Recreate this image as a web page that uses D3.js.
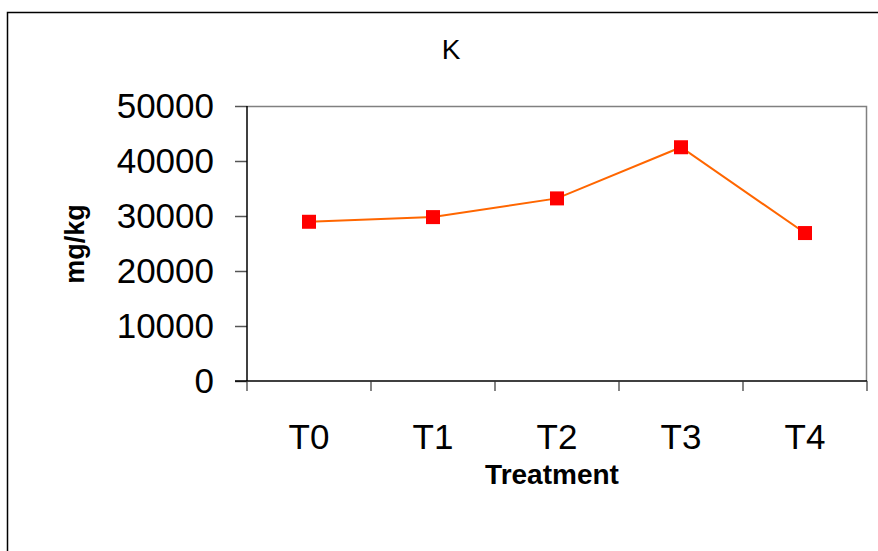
<!DOCTYPE html>
<html>
<head>
<meta charset="utf-8">
<script src="https://cdn.jsdelivr.net/npm/d3@7"></script>
<style>
  body { margin: 0; background: #fff; }
  svg { display: block; font-family: "Liberation Sans", Arial, sans-serif; }
</style>
</head>
<body>
<div id="chart"></div>
<script>
// data
var treatments = ["T0", "T1", "T2", "T3", "T4"];
var kValues = [28950, 29800, 33200, 42500, 26900];
var yTicks = [0, 10000, 20000, 30000, 40000, 50000];

var svgWidth = 878;
var svgHeight = 551;

// plot area
var margin = { top: 106, right: 11, bottom: 170, left: 247 };
var width = svgWidth - margin.left - margin.right;
var height = svgHeight - margin.top - margin.bottom;

var svg = d3.select("#chart")
  .append("svg")
  .attr("width", svgWidth)
  .attr("height", svgHeight);

// outer chart border
svg.append("rect")
  .attr("x", 7.5)
  .attr("y", 12.5)
  .attr("width", 900)
  .attr("height", 600)
  .attr("fill", "none")
  .attr("stroke", "#000")
  .attr("stroke-width", 1.5);

var chartGroup = svg.append("g")
  .attr("transform", `translate(${margin.left}, ${margin.top})`);

// scales
var xScale = d3.scaleBand()
  .domain(treatments)
  .range([0, width]);

var yScale = d3.scaleLinear()
  .domain([0, 50000])
  .range([height, 0]);

// plot area frame (grey top/right)
chartGroup.append("path")
  .attr("d", `M0,0.5H${width - 0.5}V${height}`)
  .attr("fill", "none")
  .attr("stroke", "#808080")
  .attr("stroke-width", 1.5);

// y axis
var yAxis = d3.axisLeft(yScale)
  .tickValues(yTicks)
  .tickFormat(d3.format("d"))
  .tickSize(12)
  .tickPadding(21);

var yG = chartGroup.append("g").call(yAxis);
yG.select(".domain").remove();
yG.selectAll(".tick line").attr("stroke", "#555").attr("stroke-width", 1.5);
yG.selectAll(".tick text")
  .attr("fill", "#000")
  .style("font-size", "35px");
yG.append("line")
  .attr("x1", 0).attr("x2", 0)
  .attr("y1", 0).attr("y2", height)
  .attr("stroke", "#000")
  .attr("stroke-width", 1.5);

// x axis: ticks sit between categories
var xG = chartGroup.append("g")
  .attr("transform", `translate(0, ${height})`);

xG.append("line")
  .attr("x1", -12).attr("x2", width)
  .attr("y1", 0).attr("y2", 0)
  .attr("stroke", "#000")
  .attr("stroke-width", 1.5);

var bounds = treatments.map(d => xScale(d)).concat([width]);
xG.selectAll(".xtick").data(bounds).enter().append("line")
  .attr("class", "xtick")
  .attr("x1", d => d).attr("x2", d => d)
  .attr("y1", 0).attr("y2", 10)
  .attr("stroke", "#333")
  .attr("stroke-width", 1.2);

xG.selectAll(".xlabel").data(treatments).enter().append("text")
  .attr("class", "xlabel")
  .attr("x", d => xScale(d) + xScale.bandwidth() / 2)
  .attr("y", 68)
  .attr("text-anchor", "middle")
  .style("font-size", "35px")
  .text(d => d);

// line + markers
var line = d3.line()
  .x((d, i) => xScale(treatments[i]) + xScale.bandwidth() / 2)
  .y(d => yScale(d));

chartGroup.append("path")
  .datum(kValues)
  .attr("d", line)
  .attr("fill", "none")
  .attr("stroke", "#FF6600")
  .attr("stroke-width", 2);

var ms = 14;
chartGroup.selectAll(".marker").data(kValues).enter().append("rect")
  .attr("class", "marker")
  .attr("x", (d, i) => xScale(treatments[i]) + xScale.bandwidth() / 2 - ms / 2)
  .attr("y", d => yScale(d) - ms / 2)
  .attr("width", ms)
  .attr("height", ms)
  .attr("fill", "#FF0000");

// title
svg.append("text")
  .attr("x", 451)
  .attr("y", 59)
  .attr("text-anchor", "middle")
  .style("font-size", "28px")
  .text("K");

// axis titles
svg.append("text")
  .attr("x", 552)
  .attr("y", 484)
  .attr("text-anchor", "middle")
  .style("font-size", "28px")
  .style("font-weight", "bold")
  .text("Treatment");

svg.append("text")
  .attr("transform", "translate(84, 244) rotate(-90)")
  .attr("text-anchor", "middle")
  .style("font-size", "27px")
  .style("font-weight", "bold")
  .text("mg/kg");
</script>
</body>
</html>
